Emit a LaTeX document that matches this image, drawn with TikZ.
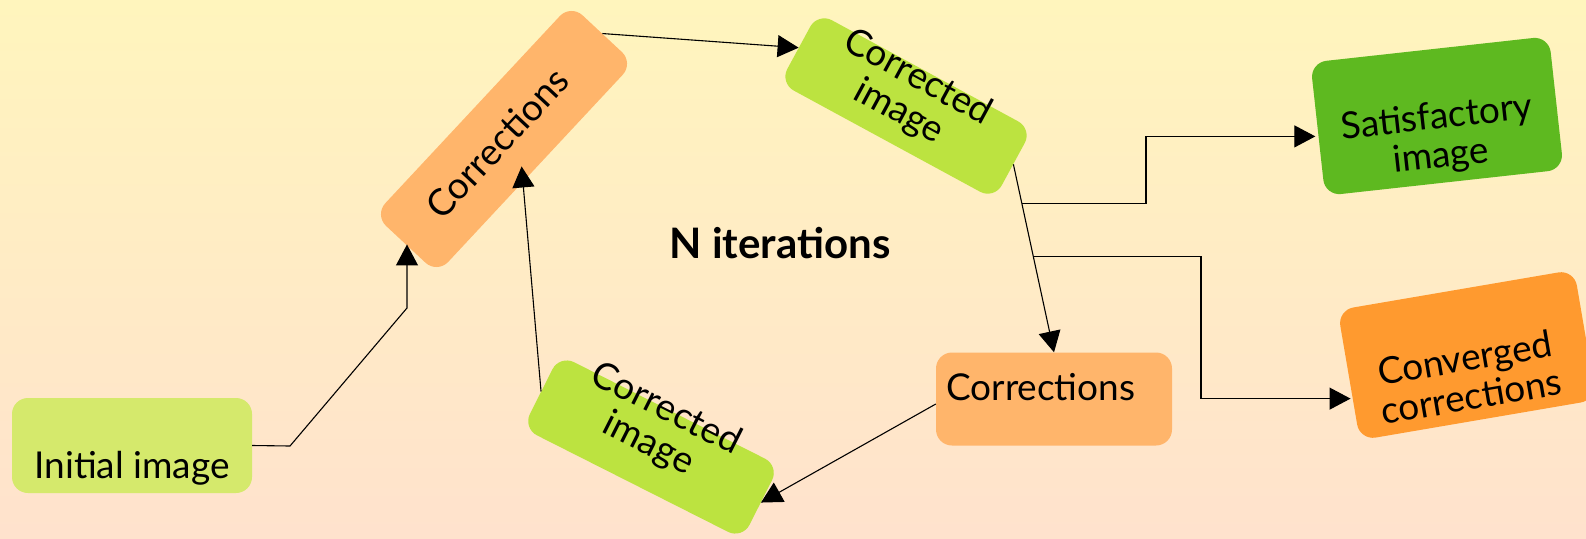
\documentclass[tikz,border=0pt]{standalone}
\usepackage{fontspec}
\setmainfont{Lato}
\usetikzlibrary{arrows.meta,calc}
\definecolor{bgtop}{HTML}{FFF5BD}
\definecolor{bgbot}{HTML}{FFE2CD}
\definecolor{cinit}{HTML}{D5E96C}
\definecolor{corr}{HTML}{FFB56B}
\definecolor{cimg}{HTML}{BCE340}
\definecolor{csat}{HTML}{5EB920}
\definecolor{cconv}{HTML}{FF9A2F}
\begin{document}
\begin{tikzpicture}[x=1pt,y=-1pt,
  box/.style={draw=none, rounded corners=16pt, inner sep=0pt},
  lbl/.style={inner sep=0pt, align=center, font=\fontsize{37}{39}\selectfont},
  conn/.style={draw=black, line width=1.1pt, -{Triangle[length=21pt,width=22pt]}},
  plain/.style={draw=black, line width=1.1pt}]
\useasboundingbox (0,0) rectangle (1586,538);
\fill[top color=bgtop, bottom color=bgbot] (0,0) rectangle (1586,538);

% boxes
\node[box, fill=cinit, minimum width=240pt, minimum height=95pt] (initbox) at (132,445.5) {};
\node[box, fill=corr, minimum width=288pt, minimum height=86pt, rotate=47] (bigbox) at (504,139) {};
\node[box, fill=cimg, minimum width=244pt, minimum height=80pt, rotate=-28.5] (topbox) at (906,106) {};
\node[box, fill=cimg, minimum width=246pt, minimum height=82pt, rotate=-26.8] (botbox) at (651,447) {};
\node[box, fill=corr, minimum width=236pt, minimum height=93pt] (c2box) at (1054,399) {};
\node[box, fill=csat, minimum width=240pt, minimum height=134pt, rotate=6.3] (satbox) at (1437,116) {};
\node[box, fill=cconv, minimum width=240pt, minimum height=132pt, rotate=9.7] (convbox) at (1467,355) {};

% labels
\node[lbl, anchor=base] (init) at (132,478) {Initial image};
\node[lbl, rotate=47] (big) at (497,143) {Corrections};
\node[lbl, rotate=-28.5] (top) at (908,95) {Corrected\\image};
\node[lbl, rotate=-26.8] (bot) at (657,427) {Corrected\\image};
\node[lbl, anchor=base west] (c2) at (946,400) {Corrections};
\node[lbl, rotate=6.3] (sat) at (1439,138) {Satisfactory\\image};
\node[lbl, rotate=9.7] (conv) at (1468,377) {Converged\\corrections};
\node[lbl, font=\fontsize{42}{46}\selectfont\bfseries, anchor=base] (niter) at (780,258) {N iterations};

% helper coordinates
\coordinate (a1) at (290,446);
\coordinate (a2) at (407,308);
\coordinate (b1) at ($(topbox.east)!0.21!(c2box.north)$);
\coordinate (b2) at ($(topbox.east)!0.49!(c2box.north)$);
\coordinate (s1x) at (1146,0);
\coordinate (s2x) at (1201,0);
\coordinate (sattip) at ($(satbox.north west)!0.554!(satbox.south west)+(-3,0)$);
\coordinate (convtip) at ($(convbox.north west)!0.679!(convbox.south west)+(-2,0)$);

% connectors
\draw[conn] (initbox.east) -- (a1) -- (a2) -- (a2 |- bigbox.west);
\draw[conn] (botbox.west) -- ($(bigbox.south)+(-14,-2)$);
\draw[conn] (bigbox.east) -- (topbox.west);
\draw[conn] (topbox.east) -- (c2box.north);
\draw[conn] (b1) -- (b1 -| s1x) -- (s1x |- sattip) -- (sattip);
\draw[conn] (b2) -- (b2 -| s2x) -- (s2x |- convtip) -- (convtip);
\draw[conn] ($(c2box.west)+(0,5)$) -- (botbox.east);
\end{tikzpicture}
\end{document}
